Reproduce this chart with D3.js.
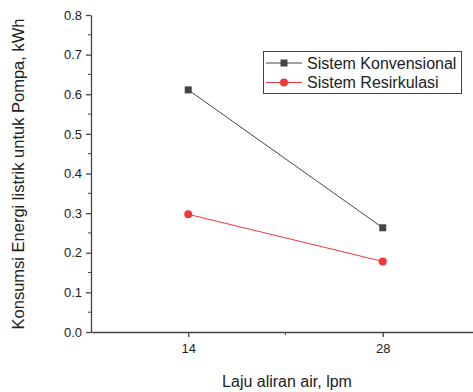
<!DOCTYPE html>
<html><head><meta charset="utf-8">
<script src="https://cdn.jsdelivr.net/npm/d3@7"></script>
<style>body{margin:0;background:#fff}svg{display:block}text{font-family:"Liberation Sans",Arial,sans-serif;fill:#222}</style>
</head><body><svg id="c" width="473" height="392"></svg>
<script>
const flow = [14, 28];
const konvensional = [0.611, 0.263];
const resirkulasi = [0.297, 0.178];
const seriesNames = ["Sistem Konvensional", "Sistem Resirkulasi"];
const yTicks = [0, 0.1, 0.2, 0.3, 0.4, 0.5, 0.6, 0.7, 0.8];
const xTicks = [14, 28];

const svg = d3.select("#c");
const L = 91, T = 15, B = 332, R = 480;
const x = d3.scaleLinear().domain([7, 35]).range([L, R]);
const y = d3.scaleLinear().domain([0, 0.8]).range([B, T]);
const axisColor = "#444";

// y axis
const ya = svg.append("g").attr("transform", `translate(${L},0)`)
  .call(d3.axisLeft(y).tickValues(yTicks).tickFormat(d3.format(".1f")).tickSize(5).tickSizeOuter(0));
ya.selectAll("text").attr("font-size", 13).attr("dx", -1);
// minor y
svg.append("g").selectAll("line").data(d3.range(0.05, 0.8, 0.1)).join("line")
  .attr("x1", L - 3).attr("x2", L).attr("y1", d => y(d)).attr("y2", d => y(d)).attr("stroke", axisColor);
// x axis
const xa = svg.append("g").attr("transform", `translate(0,${B})`)
  .call(d3.axisBottom(x).tickValues(xTicks).tickFormat(d3.format("d")).tickSize(5).tickSizeOuter(0));
xa.selectAll("text").attr("font-size", 13).attr("y", 0).attr("dy", 0).attr("transform", "translate(0,20.7)");
svg.append("line").attr("x1", x(21)).attr("x2", x(21)).attr("y1", B).attr("y2", B + 3).attr("stroke", axisColor);
svg.selectAll(".domain, .tick line").attr("stroke", axisColor).attr("stroke-width", 1.3);

// titles
svg.append("text").attr("x", 287).attr("y", 387).attr("text-anchor", "middle").attr("font-size", 16).text("Laju aliran air, lpm");
svg.append("text").attr("transform", "translate(24,174) rotate(-90)").attr("text-anchor", "middle").attr("font-size", 16.5).text("Konsumsi Energi listrik untuk Pompa, kWh");

const line = d3.line().x((d, i) => x(flow[i])).y(d => y(d));
const blk = "#444", red = "#f0373c";
svg.append("path").attr("d", line(konvensional)).attr("fill", "none").attr("stroke", blk).attr("stroke-width", 1);
svg.append("path").attr("d", line(resirkulasi)).attr("fill", "none").attr("stroke", red).attr("stroke-width", 1);
svg.append("g").selectAll("rect").data(konvensional).join("rect")
  .attr("x", (d, i) => x(flow[i]) - 3.5).attr("y", d => y(d) - 3.5).attr("width", 7).attr("height", 7).attr("fill", blk);
svg.append("g").selectAll("circle").data(resirkulasi).join("circle")
  .attr("cx", (d, i) => x(flow[i])).attr("cy", d => y(d)).attr("r", 4).attr("fill", red);

// legend
const lg = svg.append("g");
lg.append("rect").attr("x", 263.5).attr("y", 51.5).attr("width", 198).attr("height", 42).attr("fill", "#fff").attr("stroke", "#444").attr("stroke-width", 1);
const cols = [blk, red];
seriesNames.forEach((n, i) => {
  const yy = 63 + i * 19.5;
  lg.append("line").attr("x1", 266).attr("x2", 302).attr("y1", yy).attr("y2", yy).attr("stroke", cols[i]).attr("stroke-width", 1);
  if (i === 0) lg.append("rect").attr("x", 280.5).attr("y", yy - 3.5).attr("width", 7).attr("height", 7).attr("fill", blk);
  else lg.append("circle").attr("cx", 284).attr("cy", yy).attr("r", 4).attr("fill", red);
  lg.append("text").attr("x", 307).attr("y", yy + 5.5).attr("font-size", 16).text(n);
});
</script></body></html>
